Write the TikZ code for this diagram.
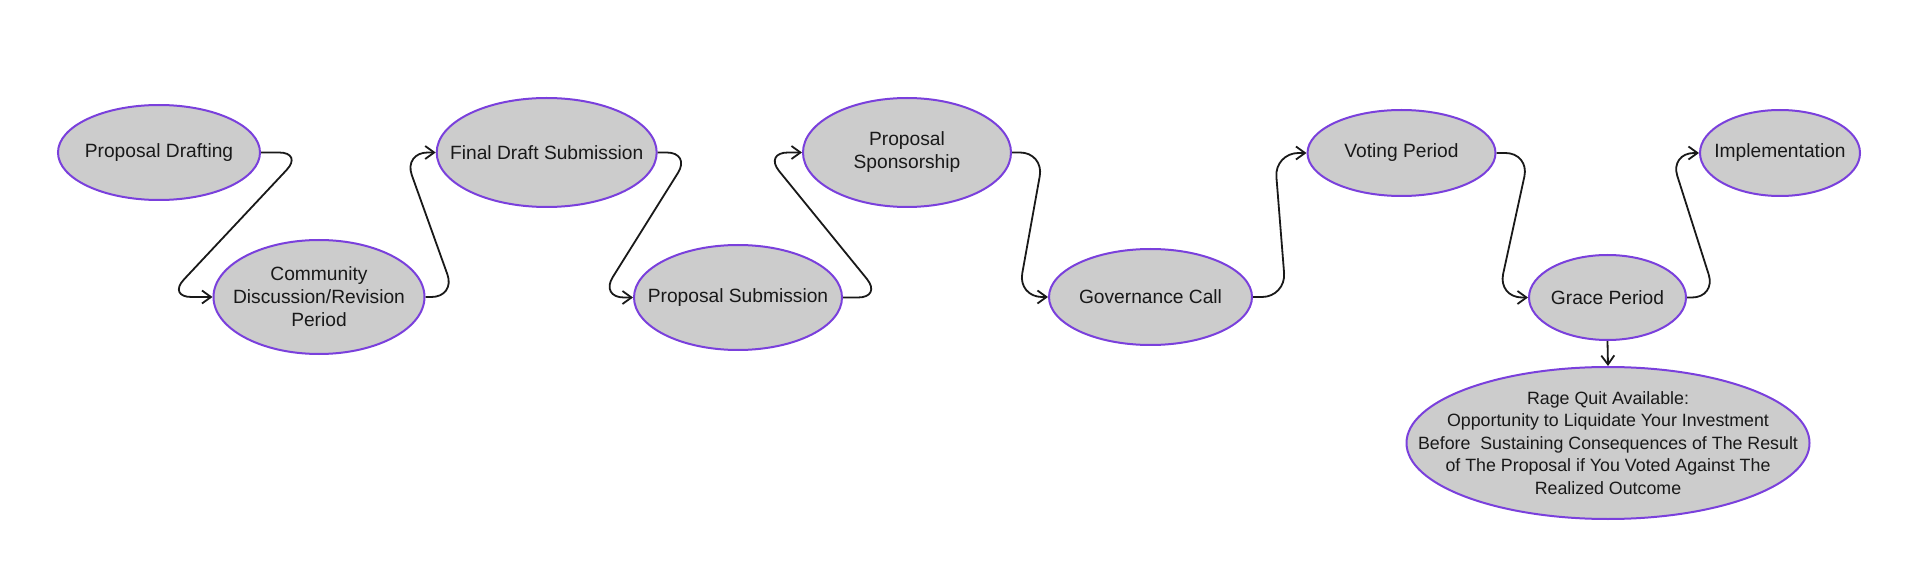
\documentclass[tikz,border=0pt]{standalone}
\usepackage{fontspec}
\setmainfont{Liberation Sans}
\usetikzlibrary{shapes.geometric,arrows.meta,calc}
\definecolor{nodefill}{RGB}{204,204,204}
\definecolor{nodeborder}{RGB}{122,64,220}
\definecolor{ink}{RGB}{25,25,25}
\begin{document}
\begin{tikzpicture}[x=1pt,y=-1pt,
  stage/.style={ellipse, draw=nodeborder, fill=nodefill, line width=2pt, inner sep=0pt},
  caption/.style={align=center, text=ink, inner sep=0pt, font=\fontsize{19.2}{23}\selectfont},
  bigcaption/.style={align=center, text=ink, inner sep=0pt, font=\fontsize{17.8}{22.5}\selectfont},
  flow/.style={draw=ink, line width=1.8pt, rounded corners=24pt,
    -{Straight Barb[length=9pt,width=13pt]}},
  drop/.style={draw=ink, line width=1.8pt, -{Straight Barb[length=9pt,width=13pt]}}]
\useasboundingbox (0,0) rectangle (1920,569);
\node[stage, minimum width=202pt, minimum height=95pt,  label={[caption]center:Proposal Drafting}] (n1) at (159,152.5) {};
\node[stage, minimum width=211pt, minimum height=114pt, label={[caption]center:Community\\Discussion/Revision\\Period}] (n2) at (319,297) {};
\node[stage, minimum width=220pt, minimum height=109pt, label={[caption]center:Final Draft Submission}] (n3) at (546.7,152.5) {};
\node[stage, minimum width=208pt, minimum height=105pt, label={[caption]center:Proposal Submission}] (n4) at (738,297.5) {};
\node[stage, minimum width=208pt, minimum height=109pt, label={[caption]center:Proposal\\Sponsorship}] (n5) at (907,152.5) {};
\node[stage, minimum width=203pt, minimum height=96pt,  label={[caption]center:Governance Call}] (n6) at (1150.5,297) {};
\node[stage, minimum width=188pt, minimum height=86pt,  label={[caption]center:Voting Period}] (n7) at (1401.5,153) {};
\node[stage, minimum width=157pt, minimum height=85pt,  label={[caption]center:Grace Period}] (n8) at (1607.5,297.5) {};
\node[stage, minimum width=160pt, minimum height=86pt,  label={[caption]center:Implementation}] (n9) at (1780,153) {};
\node[stage, minimum width=403pt, minimum height=152pt,
  label={[bigcaption]center:Rage Quit Available:\\Opportunity to Liquidate Your Investment\\Before\ \ Sustaining Consequences of The Result\\of The Proposal if You Voted Against The\\Realized Outcome}] (n10) at (1608,443) {};

\draw[flow] (n1.east) -- ++(42,0)   -- ($(n2.west)+(-45,0)$) -- (n2.west);
\draw[flow] (n2.east) -- ++(30,0)   -- ($(n3.west)+(-32,0)$) -- (n3.west);
\draw[flow] (n3.east) -- ++(33,0)   -- ($(n4.west)+(-33,0)$) -- (n4.west);
\draw[flow] (n4.east) -- ++(39,0)   -- ($(n5.west)+(-38,0)$) -- (n5.west);
\draw[flow] (n5.east) -- ++(32,0)   -- ($(n6.west)+(-30,0)$) -- (n6.west);
\draw[flow] (n6.east) -- ++(33,0)   -- ($(n7.west)+(-32,0)$) -- (n7.west);
\draw[flow] (n7.east) -- ++(33,0)   -- ($(n8.west)+(-30,0)$) -- (n8.west);
\draw[flow] (n8.east) -- ++(29,0)   -- ($(n9.west)+(-29,0)$) -- (n9.west);
\draw[drop] (n8.south) -- (n10.north);
\end{tikzpicture}
\end{document}
